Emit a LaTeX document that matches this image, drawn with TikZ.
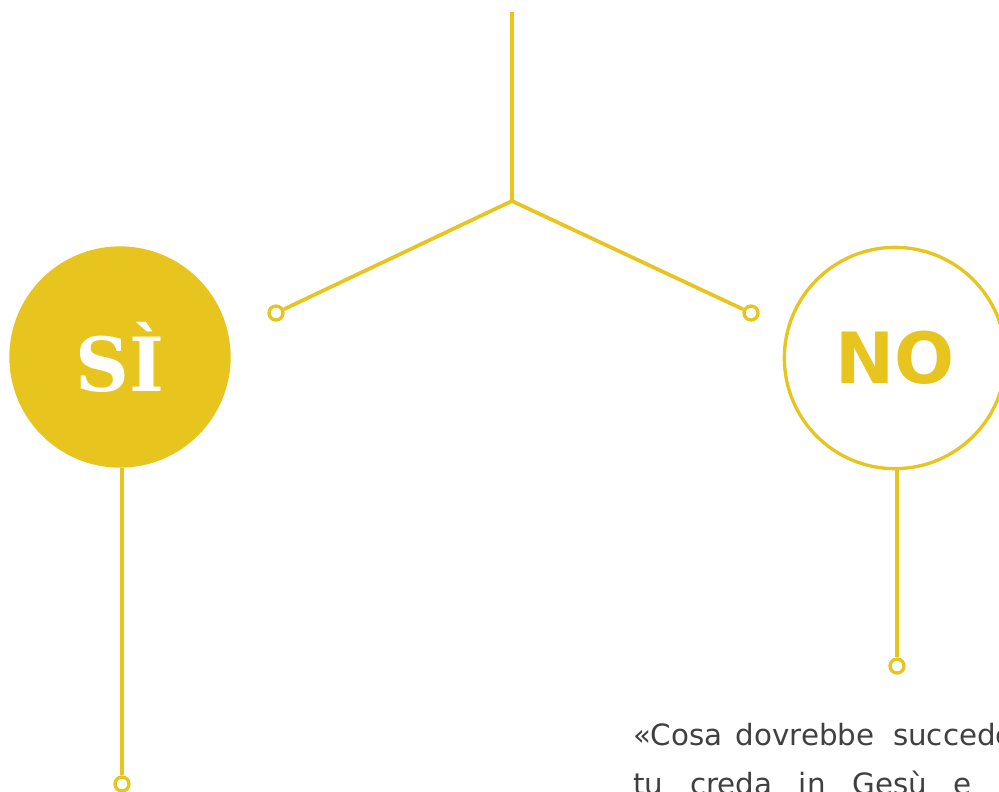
\documentclass[tikz,border=0pt]{standalone}
\usepackage{fontspec}
\setmainfont{DejaVu Sans}
\newfontfamily\slabfont{DejaVu Serif}
\definecolor{gold}{HTML}{E8C41F}
\definecolor{textgray}{HTML}{404040}
\begin{document}
\begin{tikzpicture}
			[x=0.75pt,y=-0.75pt,
			wire/.style={draw=gold,line width=2.8pt},
			tip/.style={circle,draw=gold,fill=white,line width=2.5pt,inner sep=0pt,minimum size=10.5pt},
			bigdisc/.style={circle,minimum size=166pt,inner sep=0pt},
			quote/.style={anchor=base west,inner sep=0pt,text=textgray,font=\fontsize{22}{26}\selectfont}]
			\useasboundingbox (0,0) rectangle (999,792);
			\clip (0,0) rectangle (999,792);
			% stem and branches
			\coordinate (top) at (512,12);
			\coordinate (fork) at (512,201);
			\node[tip] (leftend) at (276,313) {};
			\node[tip] (rightend) at (751,313) {};
			\draw[wire] (top) -- (fork);
			\draw[wire] (fork) -- (leftend);
			\draw[wire] (fork) -- (rightend);
			% answers
			\node[bigdisc,fill=gold,text=white] (yes) at (120,357) {\slabfont\bfseries\fontsize{56}{60}\selectfont SÌ};
			\node[bigdisc,draw=gold,line width=2.5pt,fill=white,text=gold] (no) at (895,358) {\bfseries\fontsize{53}{60}\selectfont NO};
			\node[tip] (yesend) at (122,784) {};
			\node[tip] (noend) at (897,666) {};
			\draw[wire] (yes.south) ++(2,0) coordinate (yesfoot) -- (yesend);
			\draw[wire] (no.south) ++(2,0) coordinate (nofoot) -- (noend);
			% quote
			\node[quote] (quote1) at (633,745) {«Cosa\hspace{10pt}dovrebbe\hspace{14pt}succedere};
			\node[quote] (quote2) at (633,794) {tu\hspace{20pt}creda\hspace{20pt}in\hspace{20pt}Gesù\hspace{20pt}e};
		\end{tikzpicture}
\end{document}
